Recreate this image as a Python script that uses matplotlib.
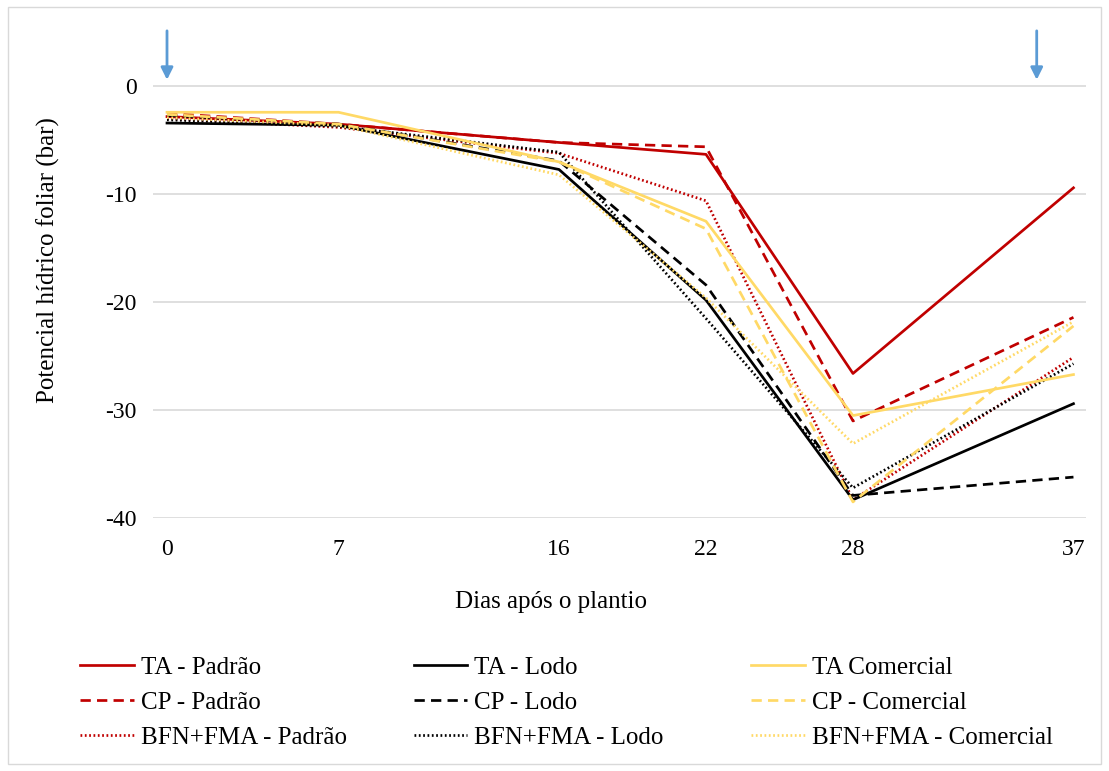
import matplotlib.pyplot as plt
from matplotlib.patches import Rectangle

plt.rcParams['font.family'] = ['Liberation Serif', 'DejaVu Serif']
plt.rcParams['axes.unicode_minus'] = False

dias = [0, 7, 16, 22, 28, 37]

ta_padrao = [-2.8, -3.5, -5.2, -6.3, -26.6, -9.4]
cp_padrao = [-2.5, -3.5, -5.2, -5.6, -31.0, -21.4]
bfn_padrao = [-3.0, -3.8, -6.2, -10.6, -38.3, -25.1]

ta_lodo = [-3.4, -3.6, -7.7, -19.8, -38.3, -29.4]
cp_lodo = [-2.7, -3.5, -6.9, -18.4, -37.9, -36.2]
bfn_lodo = [-3.1, -3.7, -6.1, -21.5, -37.2, -25.7]

ta_comercial = [-2.4, -2.4, -7.0, -12.5, -30.5, -26.7]
cp_comercial = [-2.6, -3.5, -7.0, -13.2, -38.5, -22.2]
bfn_comercial = [-2.9, -3.6, -8.2, -19.6, -33.1, -21.8]

setas = [0, 35.5]

VERMELHO = '#C00000'
PRETO = '#000000'
AMARELO = '#FFD966'

fig = plt.figure(figsize=(11.09, 7.71), dpi=100)
ax = fig.add_axes([0.138, 0.328, 0.841, 0.630])

tracejado = (0, (3.8, 2.3))
pontilhado = (0, (0.65, 0.95))

grupos = [
    [(ta_padrao, 'TA - Padrão', '-'), (cp_padrao, 'CP - Padrão', tracejado),
     (bfn_padrao, 'BFN+FMA - Padrão', pontilhado)],
    [(ta_lodo, 'TA - Lodo', '-'), (cp_lodo, 'CP - Lodo', tracejado),
     (bfn_lodo, 'BFN+FMA - Lodo', pontilhado)],
    [(ta_comercial, 'TA Comercial', '-'), (cp_comercial, 'CP - Comercial', tracejado),
     (bfn_comercial, 'BFN+FMA - Comercial', pontilhado)],
]
cores = [VERMELHO, PRETO, AMARELO]

handles = []
for grupo, cor in zip(grupos, cores):
    hs = []
    for valores, nome, estilo in grupo:
        h, = ax.plot(dias, valores, color=cor, linestyle=estilo, linewidth=1.95, label=nome)
        hs.append(h)
    handles.append(hs)

for d in setas:
    ax.annotate('', xy=(d, 0.35), xytext=(d, 5.4), annotation_clip=False,
                arrowprops=dict(arrowstyle='-|>', color='#5B9BD5', lw=2, mutation_scale=18))

ax.set_xlim(-0.57, 37.5)
ax.set_ylim(-40, 5)
ax.set_xticks(dias)
ax.set_yticks([0, -10, -20, -30, -40])
ax.tick_params(length=0, labelsize=17)
ax.tick_params(axis='x', pad=15)
ax.tick_params(axis='y', pad=12)
ax.grid(axis='y', color='#D9D9D9', linewidth=1.2)
ax.set_axisbelow(True)
for s in ax.spines.values():
    s.set_visible(False)

fig.text(0.497, 0.219, 'Dias após o plantio', fontsize=18, ha='center', va='center')
fig.text(0.044, 0.663, 'Potencial hídrico foliar (bar)', fontsize=18, ha='center',
         va='center', rotation=90)

xs = [0.072, 0.373, 0.677]
for hs, x in zip(handles, xs):
    fig.legend(handles=hs, loc='upper left', bbox_to_anchor=(x, 0.149), frameon=False,
               fontsize=18, borderpad=0, handlelength=2.15, handletextpad=0.28,
               labelspacing=0.5, borderaxespad=0)

fig.patches.append(Rectangle((0.007, 0.009), 0.986, 0.982, transform=fig.transFigure,
                             fill=False, edgecolor='#D9D9D9', linewidth=1))

fig.savefig('out.png', dpi=100)
